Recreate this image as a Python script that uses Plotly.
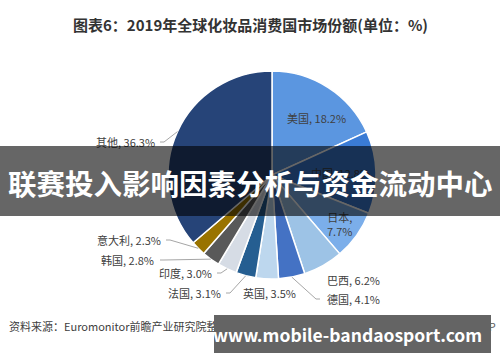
import math
import plotly.graph_objects as go

# ---- data ----
countries = ["美国", "中国", "日本", "巴西", "德国", "英国", "法国", "印度", "韩国", "意大利", "其他"]
shares = [18.2, 12.8, 7.7, 6.2, 4.1, 3.5, 3.1, 3.0, 2.8, 2.3, 36.3]
colors = ["#5B96E0", "#3A7BD5", "#7BAEEA", "#9DC3E6", "#4472C4", "#BDD7EE",
          "#255E91", "#D6DCE5", "#595959", "#997300", "#264478"]
title_text = "图表6：2019年全球化妆品消费国市场份额(单位：%)"
banner_text = "联赛投入影响因素分析与资金流动中心"
source_text = "资料来源：Euromonitor前瞻产业研究院整理"
brand_text = "©前瞻经济学人APP"
site_text = "www.mobile-bandaosport.com"

W, H = 500, 362
CX, CY, R = 272, 175, 104


def px(x):
    return x / W


def py(y):
    return 1 - y / H


fig = go.Figure(go.Pie(
    labels=countries, values=shares, sort=False, direction="clockwise",
    rotation=0, marker=dict(colors=colors, line=dict(color="white", width=1.5)),
    textinfo="none", hoverinfo="label+value", showlegend=False,
    domain=dict(x=[px(CX - R), px(CX + R)], y=[py(CY + R), py(CY - R)]),
))

# mid angles of slices (from data)
total = sum(shares)
mids = {}
acc = 0
for c, v in zip(countries, shares):
    mids[c] = (acc + v / 2) / total * 2 * math.pi
    acc += v


def edge(c, f=1.0):
    a = mids[c]
    return CX + R * f * math.sin(a), CY - R * f * math.cos(a)


# label layout: (x, y, anchor, leader start x or None)
label_layout = {
    "美国": (316, 118, "center", None),
    "中国": (340, 173, "center", None),
    "日本": (339, 224, "center", None),
    "巴西": (325, 280, "left", None),
    "德国": (325, 299, "left", 320),
    "英国": (269, 293, "center", None),
    "法国": (223, 293, "right", 226),
    "印度": (214, 273, "right", 217),
    "韩国": (156, 260, "right", 160),
    "意大利": (163, 240, "right", 166),
    "其他": (157, 142, "right", 160),
}

shapes = []
annotations = []
lab_font = dict(family="Noto Sans CJK SC, sans-serif", size=11, color="#404040")
for c, v in zip(countries, shares):
    x, y, anc, lx = label_layout[c]
    if c == "日本":
        txt = f"{c},<br>{v}%"
    else:
        txt = f"{c}, {v}%"
    annotations.append(dict(text=txt, x=px(x), y=py(y), xref="paper", yref="paper",
                            xanchor=anc, yanchor="middle", showarrow=False,
                            font=lab_font, align="center"))
    if lx is not None:
        ex, ey = edge(c, 1.0)
        if c == "德国":
            elbow = (lx - 4, y)
        else:
            elbow = (lx + 4, y)
        for (x0, y0), (x1, y1) in [((lx, y), elbow), (elbow, (ex, ey))]:
            shapes.append(dict(type="line", xref="paper", yref="paper",
                               x0=px(x0), y0=py(y0), x1=px(x1), y1=py(y1),
                               line=dict(color="#A6A6A6", width=1), layer="above"))

# title
annotations.append(dict(text=f"<b>{title_text}</b>", x=px(250), y=py(25), xref="paper", yref="paper",
                        xanchor="center", yanchor="middle", showarrow=False,
                        font=dict(family="Noto Sans CJK SC, sans-serif", size=15, color="#333333")))
# footer
annotations.append(dict(text=source_text, x=px(7), y=py(326), xref="paper", yref="paper",
                        xanchor="left", yanchor="middle", showarrow=False,
                        font=dict(family="Noto Sans CJK SC, sans-serif", size=11, color="#404040")))
annotations.append(dict(text=brand_text, x=px(498), y=py(326), xref="paper", yref="paper",
                        xanchor="right", yanchor="middle", showarrow=False,
                        font=dict(family="Noto Sans CJK SC, sans-serif", size=11, color="#595959")))
# overlay banner background (empty annotation box) + text
annotations.append(dict(text=" ", x=0, y=py(146), xref="paper", yref="paper",
                        xanchor="left", yanchor="top", showarrow=False,
                        width=W, height=70, bgcolor="rgba(0,0,0,0.6)", borderpad=0, borderwidth=0,
                        font=dict(size=10, color="white")))
annotations.append(dict(text=f"<b>{banner_text}</b>", x=0.5, y=py(182), xref="paper", yref="paper",
                        xanchor="center", yanchor="middle", showarrow=False,
                        font=dict(family="Noto Sans CJK SC, sans-serif", size=28.5, color="white")))
# footer site banner background + text
annotations.append(dict(text=" ", x=px(214), y=py(315), xref="paper", yref="paper",
                        xanchor="left", yanchor="top", showarrow=False,
                        width=277, height=38, bgcolor="#646464", borderpad=0, borderwidth=0,
                        font=dict(size=10, color="white")))
annotations.append(dict(text=f"<b>{site_text}</b>", x=px(347), y=py(334), xref="paper", yref="paper",
                        xanchor="center", yanchor="middle", showarrow=False,
                        font=dict(family="Noto Sans CJK SC, sans-serif", size=17.5, color="white")))

fig.update_layout(width=W, height=H, margin=dict(l=0, r=0, t=0, b=0),
                  paper_bgcolor="white", plot_bgcolor="white",
                  shapes=shapes, annotations=annotations)

fig.write_html("out.html", config={"displayModeBar": False},
               post_script="document.body.style.margin='0';document.body.style.overflow='hidden';")
